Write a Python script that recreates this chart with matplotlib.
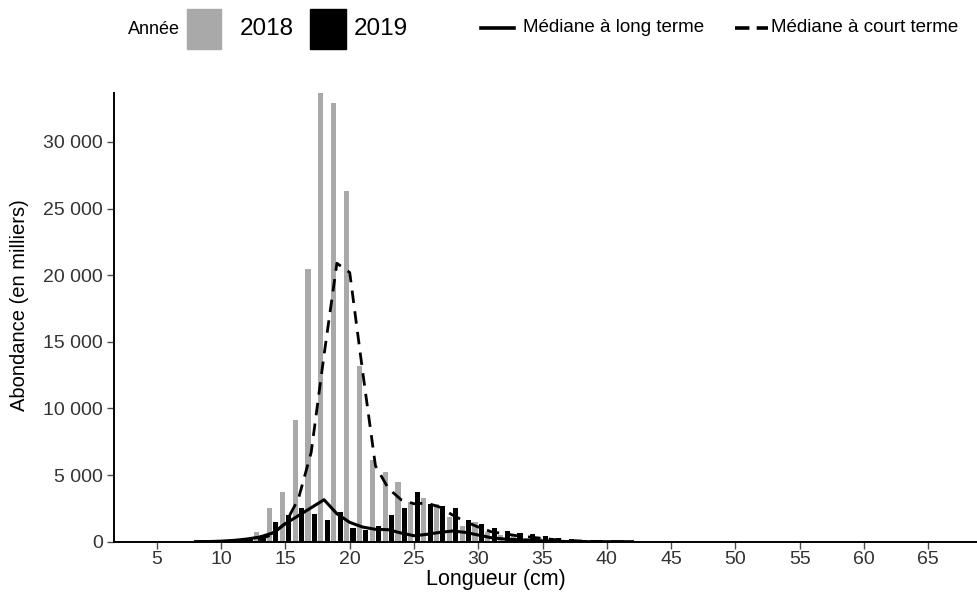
import numpy as np
import matplotlib
matplotlib.use("Agg")
import matplotlib.pyplot as plt
from matplotlib.patches import Rectangle
from matplotlib.lines import Line2D
from matplotlib.ticker import FuncFormatter

plt.rcParams['font.family'] = ['Liberation Sans', 'DejaVu Sans']

# longueurs (cm) des classes de taille
longueurs = np.arange(11, 43)
abondance_2018 = [80, 300, 750, 2500, 3700, 9100, 20500, 33650, 32950, 26300,
                  13150, 6100, 5200, 4450, 3000, 3250, 2850, 1850, 1200, 1450,
                  700, 500, 400, 300, 250, 180, 120, 100, 80, 50, 30, 20]
abondance_2019 = [50, 200, 500, 1450, 2000, 2500, 2100, 1650, 2250, 1050,
                  900, 1150, 2000, 2500, 3750, 2800, 2650, 2550, 1600, 1300,
                  1050, 800, 650, 550, 450, 300, 200, 150, 100, 80, 50, 30]

# medianes
longueurs_med = np.arange(8, 43)
mediane_long = [0, 10, 40, 100, 200, 350, 650, 1350, 1950, 2550, 3150, 2100,
                1450, 1100, 930, 900, 650, 450, 550, 700, 800, 700, 500, 300,
                200, 150, 100, 60, 30, 10, 0, 0, 0, 0, 0]
mediane_court = [0, 0, 10, 30, 60, 180, 550, 1400, 3200, 6700, 14000, 20900,
                 20200, 12800, 5700, 4000, 3150, 2850, 2900, 2600, 2000, 1500,
                 1100, 750, 600, 450, 350, 250, 150, 100, 50, 20, 10, 0, 0]

x_ticks = np.arange(5, 70, 5)
y_ticks = np.arange(0, 30001, 5000)

W, H = 977, 594
fig = plt.figure(figsize=(W / 100, H / 100), dpi=100)
ax = fig.add_axes([114 / W, (H - 541.7) / H, 1 - 114 / W, (541.7 - 92.7) / H])

gris = '#a9a9a9'
ax.bar(longueurs - 0.25, abondance_2018, width=0.4, color=gris, zorder=2)
ax.bar(longueurs + 0.25, abondance_2019, width=0.4, color='black', zorder=2)
ax.plot(longueurs_med, mediane_long, color='black', lw=2.2, zorder=3,
        solid_joinstyle='round')
ax.plot(longueurs_med, mediane_court, color='black', lw=2.0, zorder=3,
        dashes=(4.5, 3))

ax.set_xlim(1.66, 68.8)
ax.set_ylim(0, 33700)
ax.set_xticks(x_ticks)
ax.set_yticks(y_ticks)
ax.yaxis.set_major_formatter(FuncFormatter(lambda v, p: f'{int(v):,}'.replace(',', ' ')))
ax.tick_params(labelsize=14, colors='#4d4d4d', length=5, width=1, labelcolor='#333333')
ax.tick_params(axis='x', pad=2)
ax.tick_params(axis='y', pad=3)
for s in ['top', 'right']:
    ax.spines[s].set_visible(False)
for s in ['left', 'bottom']:
    ax.spines[s].set_linewidth(1.4)
    ax.spines[s].set_color('black')

ax.set_ylabel('Abondance (en milliers)', fontsize=14.5)
ax.yaxis.set_label_coords(-0.098, 0.527)
fig.text(496 / W, 1 - 580 / H, 'Longueur (cm)', fontsize=15.5, ha='center', va='center')

# legende en haut
lax = fig.add_axes([0, 0, 1, 1])
lax.set_xlim(0, W)
lax.set_ylim(H, 0)
lax.axis('off')
lax.text(128, 29, 'Année', fontsize=13, va='center', ha='left')
lax.add_patch(Rectangle((187, 9), 34, 40, color=gris))
lax.text(240, 29, '2018', fontsize=17.5, va='center', ha='left')
lax.add_patch(Rectangle((310, 9), 36, 40, color='black'))
lax.text(354, 29, '2019', fontsize=17.5, va='center', ha='left')
lax.add_line(Line2D([481, 514], [28, 28], color='black', lw=2.6))
lax.text(523, 28, 'Médiane à long terme', fontsize=13.5, va='center', ha='left')
lax.add_line(Line2D([735, 768], [28, 28], color='black', lw=2.6, dashes=(4, 2)))
lax.text(771, 28, 'Médiane à court terme', fontsize=13.5, va='center', ha='left')

fig.savefig('out.png', dpi=100)
